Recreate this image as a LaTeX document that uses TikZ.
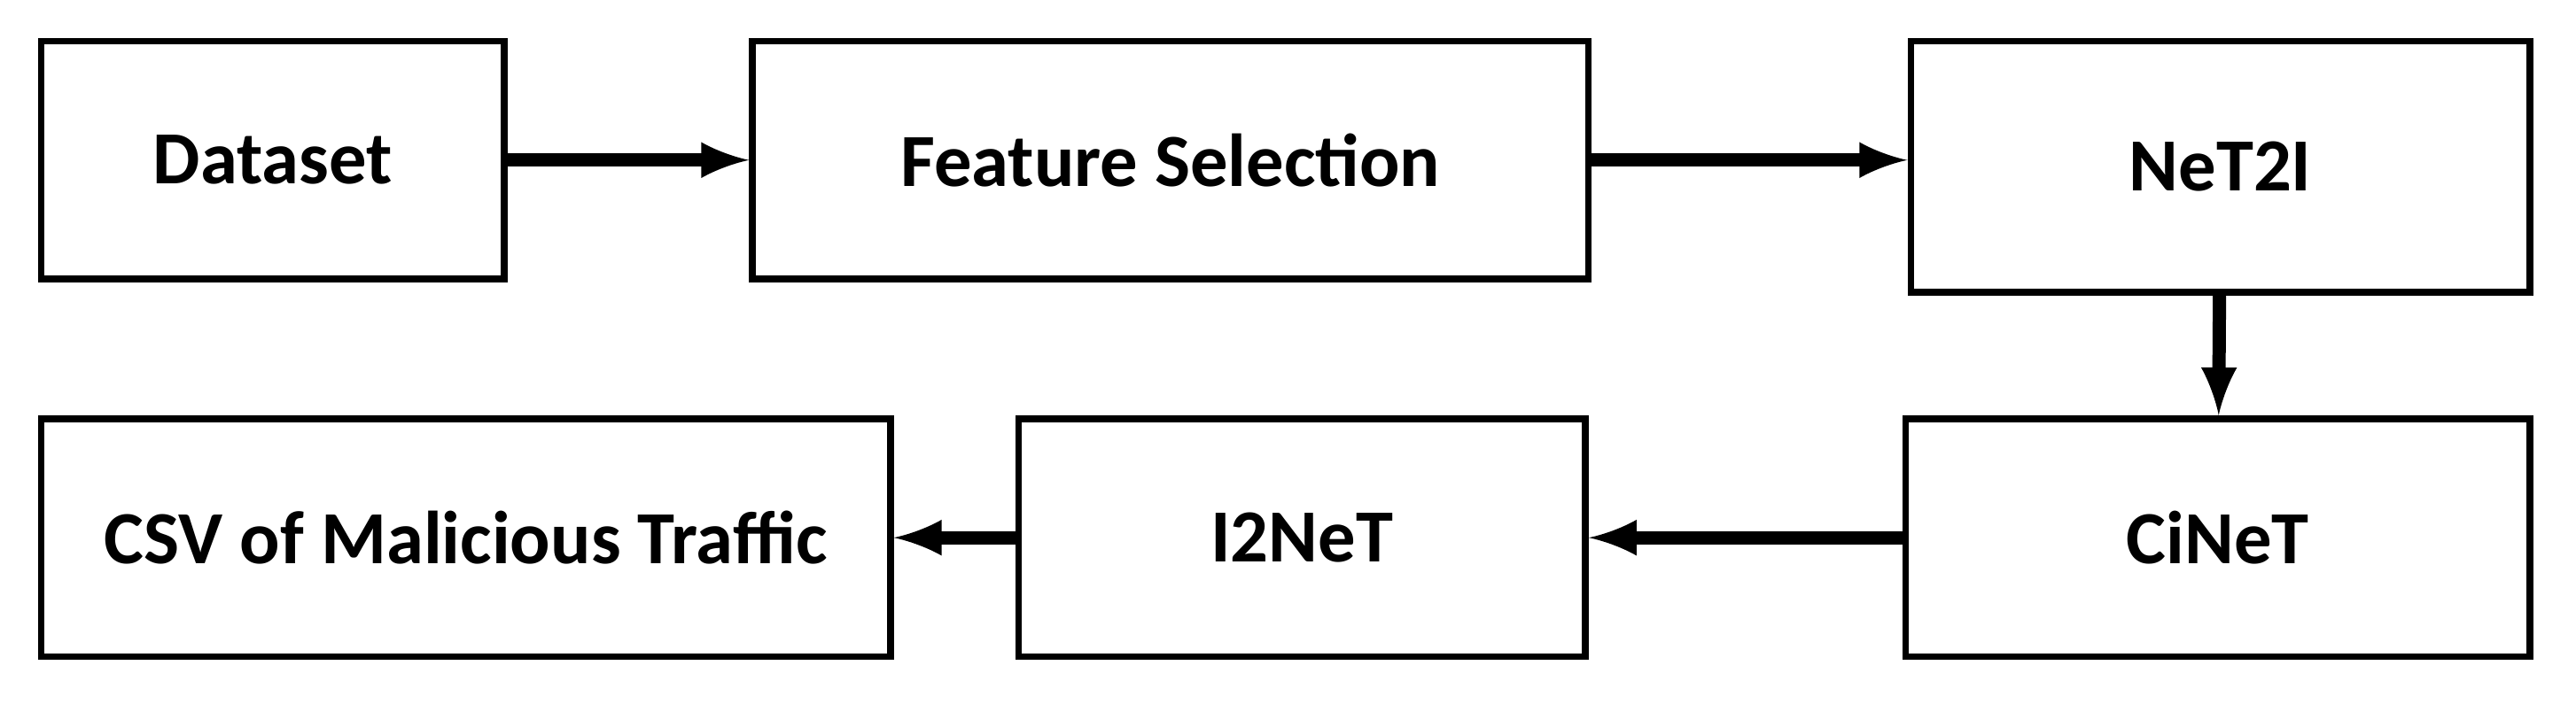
\documentclass[tikz,border=0pt]{standalone}
\usepackage{fontspec}
\setmainfont{Carlito}
\usetikzlibrary{arrows,positioning}
\tikzset{stage/.style={draw=black, line width=2.3pt, inner sep=0pt, font=\fontsize{26}{30}\selectfont\bfseries},
         flow/.style={line width=4.6pt, -latex}}

\begin{document}
\begin{tikzpicture}[x=0.02cm, y=-0.02cm]
                    \useasboundingbox (0, 0) rectangle (1568, 428.8);

                    \node[stage, minimum width=5.64cm, minimum height=2.9cm] (dataset) at (166, 97.5) {Dataset};
                    \node[stage, minimum width=10.18cm, minimum height=2.9cm] (select) at (712.5, 97.5) {Feature Selection};
                    \node[stage, minimum width=7.54cm, minimum height=3.06cm] (net2i) at (1351.5, 101.5) {NeT2I};
                    \node[stage, minimum width=7.6cm, minimum height=2.9cm] (cinet) at (1350, 327.5) {CiNeT};
                    \node[stage, minimum width=6.9cm, minimum height=2.9cm] (i2net) at (792.5, 327.5) {I2NeT};
                    \node[stage, minimum width=10.34cm, minimum height=2.9cm] (csv) at (283.5, 327.5) {CSV of Malicious Traffic};

                    \draw[flow] (dataset) -- (select);
                    \draw[flow] (select.east) -- (net2i.west |- select.east);
                    \draw[flow] (net2i) -- (cinet);
                    \draw[flow] (cinet) -- (i2net);
                    \draw[flow] (i2net) -- (csv);
                \end{tikzpicture}
\end{document}
